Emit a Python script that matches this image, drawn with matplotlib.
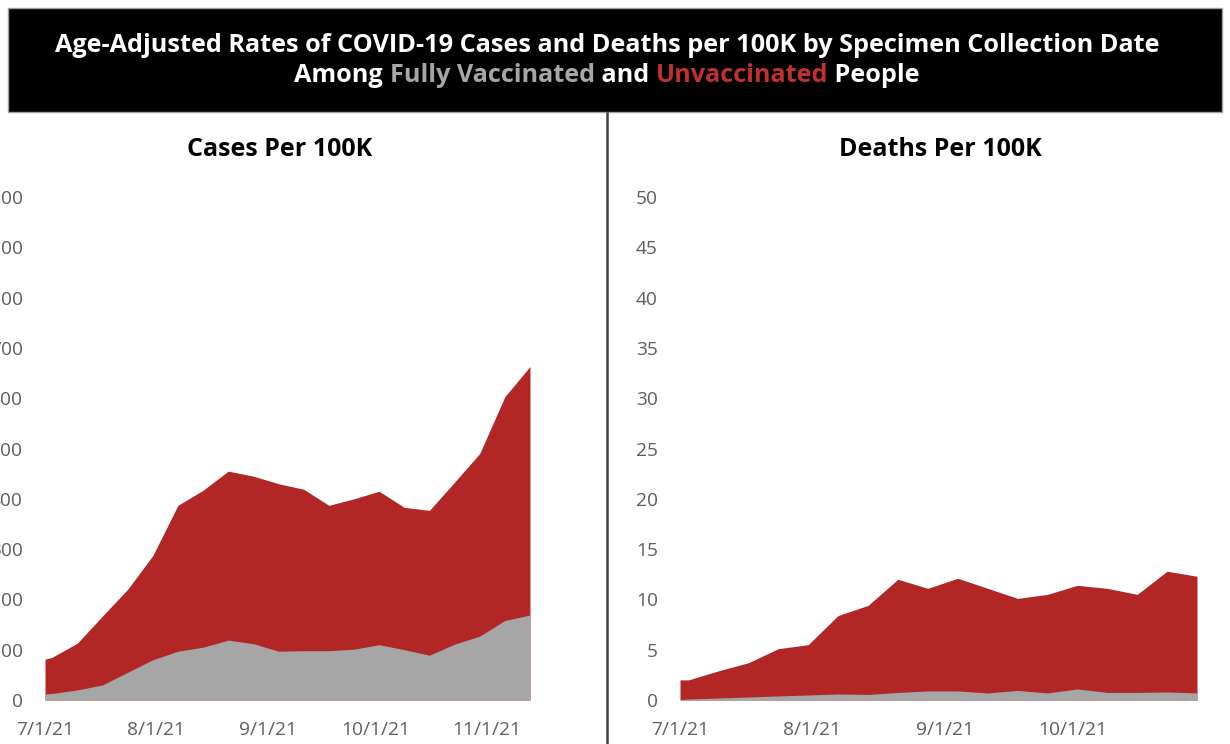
import matplotlib
matplotlib.use("Agg")
import matplotlib.pyplot as plt
from matplotlib.patches import Rectangle
from matplotlib.lines import Line2D
import numpy as np

plt.rcParams['font.family'] = ['Open Sans', 'DejaVu Sans']

# ---------------- data ----------------
case_dates = ['2021-07-01', '2021-07-03', '2021-07-10', '2021-07-17', '2021-07-24', '2021-07-31',
              '2021-08-07', '2021-08-14', '2021-08-21', '2021-08-28', '2021-09-04', '2021-09-11',
              '2021-09-18', '2021-09-25', '2021-10-02', '2021-10-09', '2021-10-16', '2021-10-23',
              '2021-10-30', '2021-11-06', '2021-11-13']
cases_unvax = [81, 85, 113, 167, 220, 287, 387, 417, 455, 445, 430, 419, 387, 400, 415, 383,
               377, 433, 490, 603, 663]
cases_vax = [12, 13, 20, 30, 55, 80, 97, 105, 119, 112, 97, 98, 98, 101, 110, 100, 89, 111,
             127, 158, 169]

death_dates = ['2021-07-01', '2021-07-03', '2021-07-10', '2021-07-17', '2021-07-24', '2021-07-31',
               '2021-08-07', '2021-08-14', '2021-08-21', '2021-08-28', '2021-09-04', '2021-09-11',
               '2021-09-18', '2021-09-25', '2021-10-02', '2021-10-09', '2021-10-16', '2021-10-23',
               '2021-10-30']
deaths_unvax = [2.0, 2.0, 2.9, 3.7, 5.1, 5.5, 8.4, 9.4, 12.0, 11.1, 12.1, 11.1, 10.1, 10.5,
                11.4, 11.1, 10.5, 12.8, 12.3]
deaths_vax = [0.05, 0.1, 0.2, 0.3, 0.4, 0.5, 0.6, 0.55, 0.75, 0.9, 0.9, 0.7, 0.95, 0.7, 1.1,
              0.75, 0.75, 0.8, 0.7]

case_ticks = ['2021-07-01', '2021-08-01', '2021-09-01', '2021-10-01', '2021-11-01']
death_ticks = ['2021-07-01', '2021-08-01', '2021-09-01', '2021-10-01']
tick_labels = ['7/1/21', '8/1/21', '9/1/21', '10/1/21', '11/1/21']
case_yticks = [0, 100, 200, 300, 400, 500, 600, 700, 800, 900, 1000]
death_yticks = [0, 5, 10, 15, 20, 25, 30, 35, 40, 45, 50]

RED = '#B22626'
GRAY = '#A6A6A6'
TICKC = '#605E5C'

W, H = 1230, 744
fig = plt.figure(figsize=(W / 100, H / 100), dpi=100)
fig.patch.set_facecolor('white')


def px_rect(x0, y0, x1, y1):
    return [x0 / W, 1 - y1 / H, (x1 - x0) / W, (y1 - y0) / H]


def to_dt(lst):
    return np.array(lst, dtype='datetime64[D]').astype('datetime64[ms]').astype(object)


def setup(ax, dates, unvax, vax, xt, yt, ymax, title, title_x):
    d = to_dt(dates)
    ax.fill_between(d, 0, unvax, color=RED, linewidth=0)
    ax.fill_between(d, 0, vax, color=GRAY, linewidth=0)
    ax.set_xlim(d[0], d[-1])
    ax.set_ylim(0, ymax)
    ax.set_xticks(to_dt(xt))
    ax.set_xticklabels(tick_labels[:len(xt)])
    ax.set_yticks(yt)
    ax.set_yticklabels([str(v) for v in yt])
    for s in ax.spines.values():
        s.set_visible(False)
    ax.tick_params(axis='both', length=0, colors=TICKC, labelsize=13.8)
    ax.tick_params(axis='y', pad=16)
    ax.tick_params(axis='x', pad=15)
    ax.set_facecolor('none')
    fig.text(title_x / W, 1 - 150 / H, title, ha='center', va='center',
             fontsize=18, fontweight='bold', color='black')


ax1 = fig.add_axes(px_rect(45, 197, 530, 700))
setup(ax1, case_dates, cases_unvax, cases_vax, case_ticks, case_yticks, 1000,
      'Cases Per 100K', 280)

ax2 = fig.add_axes(px_rect(680, 197, 1197, 700))
setup(ax2, death_dates, deaths_unvax, deaths_vax, death_ticks, death_yticks, 50,
      'Deaths Per 100K', 940)

# header box
fig.patches.append(Rectangle((8 / W, 1 - 112 / H), (1222 - 8) / W, (112 - 8) / H,
                             transform=fig.transFigure, facecolor='black',
                             edgecolor='#a0a0a0', linewidth=1.0, zorder=0))
# divider
fig.lines.append(Line2D([607 / W, 607 / W], [0, 1 - 113 / H], transform=fig.transFigure,
                        color='#444444', linewidth=1.8))

CX = 607
TFS = 18.2
fig.text(CX / W, 1 - 45 / H,
         'Age-Adjusted Rates of COVID-19 Cases and Deaths per 100K by Specimen Collection Date',
         ha='center', va='center', fontsize=TFS, fontweight='bold', color='white')

parts = [('Among ', 'white'), ('Fully Vaccinated', '#A6A6A6'), (' and ', 'white'),
         ('Unvaccinated', '#C0302F'), (' People', 'white')]
texts = []
for s, c in parts:
    t = fig.text(0, 1 - 76 / H, s, ha='left', va='center', fontsize=TFS,
                 fontweight='bold', color=c)
    texts.append(t)
fig.canvas.draw()
r = fig.canvas.get_renderer()
widths = [t.get_window_extent(r).width for t in texts]
full = fig.text(0, 0, ''.join(p[0] for p in parts), fontsize=TFS, fontweight='bold')
total = full.get_window_extent(r).width
full.remove()
scale = total / sum(widths) if sum(widths) > 0 else 1
x = CX - total / 2
for t, w in zip(texts, widths):
    t.set_x(x / W)
    x += w * scale

fig.savefig('out.png', dpi=100, facecolor='white')
